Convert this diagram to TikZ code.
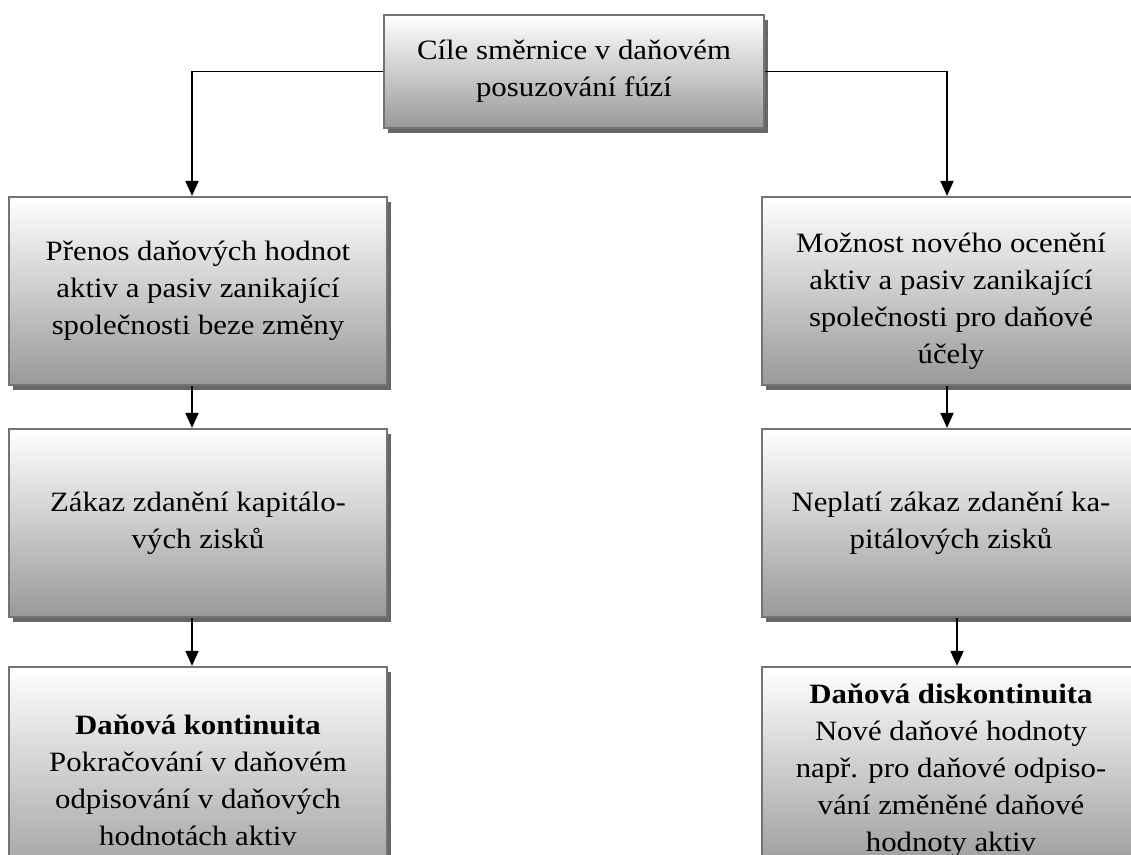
\documentclass[tikz,border=0pt]{standalone}
\usepackage{fontspec}
\setmainfont{Liberation Serif}[FakeStretch=1.1]
\usetikzlibrary{arrows.meta,shadows}
\tikzset{
  gbox/.style={draw=black!55, line width=1.1pt, top color=white, bottom color=black!40,
    drop shadow={shadow xshift=2pt, shadow yshift=-2.5pt, fill=black!60, opacity=1},
    align=center, inner sep=0pt, font=\fontsize{14}{18.5}\selectfont},
  colbox/.style={minimum width=189pt, minimum height=94pt},
  garr/.style={line width=0.9pt, -{Triangle[width=6.5pt,length=7.5pt]}}
}

\begin{document}
\begin{tikzpicture}[x=0.5pt, y=-0.5pt]
  \useasboundingbox (0,0) rectangle (1131,855);
  \clip (0,0) rectangle (1131,855);

  % goal of the directive on top
  \node[gbox, minimum width=190pt, minimum height=56.5pt] (goal) at (574,71.5)
    {Cíle směrnice v daňovém\\posuzování fúzí};

  % left branch: continuity
  \node[gbox, colbox] (L1) at (198,291)
    {Přenos daňových hodnot\\aktiv a pasiv zanikající\\společnosti beze změny};
  \node[gbox, colbox] (L2) at (198,523)
    {Zákaz zdanění kapitálo-\\vých zisků};
  \node[gbox, colbox, minimum height=113pt] (L3) at (198,780)
    {\textbf{Daňová kontinuita}\\Pokračování v daňovém\\odpisování v daňových\\hodnotách aktiv};

  % right branch: discontinuity
  \node[gbox, colbox] (R1) at (951,291)
    {\rule{0pt}{20pt}Možnost nového ocenění\\aktiv a pasiv zanikající\\společnosti pro daňové\\účely};
  \node[gbox, colbox] (R2) at (951,523)
    {Neplatí zákaz zdanění ka-\\pitálových zisků};
  \node[gbox, colbox, minimum height=104pt] (R3) at (951,771)
    {\textbf{Daňová diskontinuita}\\Nové daňové hodnoty\\např. pro daňové odpiso-\\vání změněné daňové\\hodnoty aktiv};

  \draw[garr] (goal.west) -| ([xshift=-3pt]L1.north);
  \draw[garr] (goal.east) -| ([xshift=-2pt]R1.north);
  \draw[garr] ([xshift=-3pt]L1.south) -- ([xshift=-3pt]L2.north);
  \draw[garr] ([xshift=-3pt]L2.south) -- ([xshift=-3pt]L3.north);
  \draw[garr] ([xshift=-2pt]R1.south) -- ([xshift=-2pt]R2.north);
  \draw[garr] ([xshift=3pt]R2.south) -- ([xshift=3pt]R3.north);
\end{tikzpicture}
\end{document}
